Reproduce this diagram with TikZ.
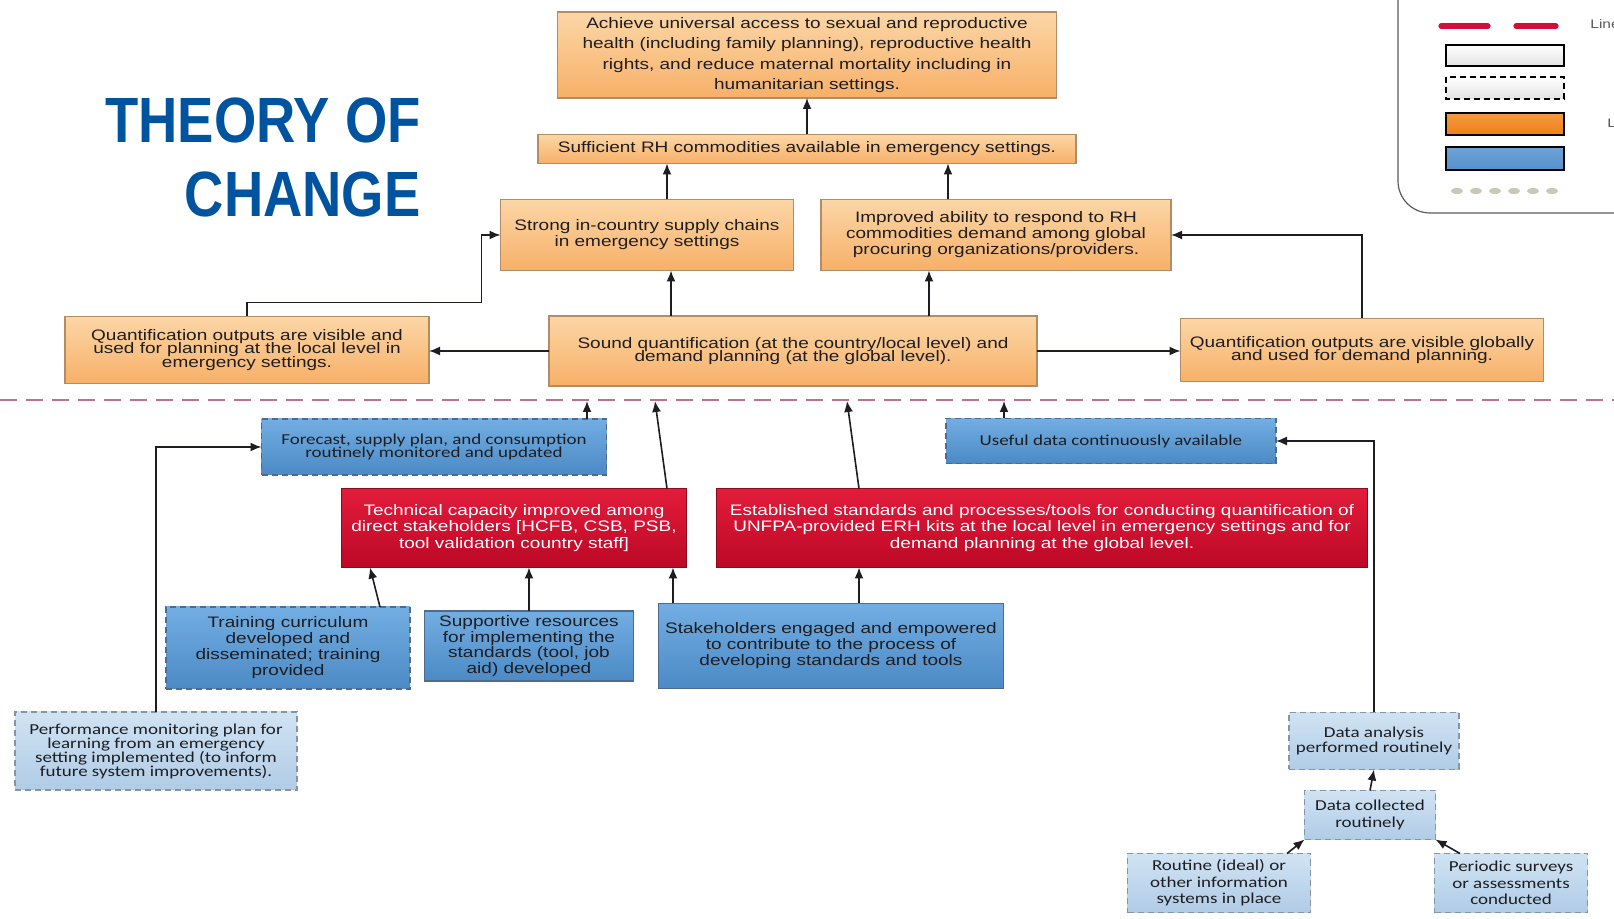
\documentclass[tikz,border=0pt]{standalone}
\usepackage{fontspec}
\setmainfont{Liberation Sans}
\newfontfamily\boxfont[FakeStretch=1.25]{Liberation Sans}
\newfontfamily\calfont[FakeStretch=1.25]{Carlito}
\newfontfamily\titlefont[FakeStretch=0.85]{Liberation Sans}
\usetikzlibrary{arrows.meta}

\definecolor{orangetop}{RGB}{252,214,166}
\definecolor{orangebot}{RGB}{247,176,104}
\definecolor{orangeline}{RGB}{178,140,100}
\definecolor{redtop}{RGB}{226,28,58}
\definecolor{redbot}{RGB}{188,8,38}
\definecolor{redline}{RGB}{140,10,30}
\definecolor{bluetop}{RGB}{114,174,226}
\definecolor{bluebot}{RGB}{76,138,198}
\definecolor{blueline}{RGB}{80,105,140}
\definecolor{paletop}{RGB}{208,227,243}
\definecolor{palebot}{RGB}{176,204,230}
\definecolor{paleline}{RGB}{135,148,165}
\definecolor{inkdark}{RGB}{30,30,34}
\definecolor{titleblue}{RGB}{0,84,159}
\definecolor{sepcolor}{RGB}{186,116,138}
\definecolor{legline}{RGB}{90,90,90}
\definecolor{legred}{RGB}{210,15,55}
\definecolor{legorange}{RGB}{240,128,20}
\definecolor{legblue}{RGB}{84,146,206}
\definecolor{beadcolor}{RGB}{204,200,182}

\newcommand{\pxu}{0.5pt}
\newcommand{\setfs}[1]{\fontsize{7.6}{#1}\selectfont\lineskiplimit=-20pt}

\tikzset{
  base/.style={inner sep=0pt, outer sep=0pt, align=center, line width=0.6pt},
  dims/.style 2 args={minimum width=#1*\pxu, minimum height=#2*\pxu},
  tight/.style={font=\boxfont\setfs{#1}},
  ctight/.style={font=\calfont\setfs{#1}},
  orangebox/.style={base, draw=orangeline, top color=orangetop, bottom color=orangebot, text=inkdark, tight=8},
  redbox/.style={base, draw=redline, top color=redtop, bottom color=redbot, text=white, tight=8.2},
  bluebox/.style={base, draw=blueline, top color=bluetop, bottom color=bluebot, text=inkdark, tight=8},
  bluedash/.style={bluebox, dash pattern=on 3pt off 2pt, ctight=6.7},
  paledash/.style={base, draw=paleline, dash pattern=on 3pt off 2pt, top color=paletop, bottom color=palebot, text=inkdark, ctight=7},
  link/.style={-{Latex[length=5.5pt,width=4.5pt]}, line width=0.8pt, draw=inkdark},
  sepline/.style={draw=sepcolor, line width=1pt, dash pattern=on 8.5pt off 4.5pt}
}

\begin{document}
\begin{tikzpicture}[x=0.5pt, y=-0.5pt]
  \useasboundingbox (0,0) rectangle (1614,919);
  \clip (0,0) rectangle (1614,919);
  \fill[white] (0,0) rectangle (1614,919); %Background

  %Title
  \node[anchor=north east, align=right, inner sep=0pt, text=titleblue,
        font=\titlefont\bfseries\fontsize{32}{37}\selectfont] (title) at (421,97) {THEORY OF\\CHANGE};

  %Legend (cut off at the right edge)
  \draw[legline, line width=0.6pt, rounded corners=16pt] (1398,-40) rectangle (1720,213);
  \draw[legred, line width=2.6pt, line cap=round] (1441,26) -- (1488,26);
  \draw[legred, line width=2.6pt, line cap=round] (1516,26) -- (1556,26);
  \draw[black, line width=0.6pt, top color=white, bottom color=gray!22] (1446,45) rectangle (1564,66);
  \draw[black, line width=0.6pt, dash pattern=on 3pt off 2pt, top color=white, bottom color=gray!22] (1446,77) rectangle (1564,99);
  \draw[black, line width=0.6pt, top color=legorange!80, bottom color=legorange] (1446,113) rectangle (1564,135);
  \draw[black, line width=0.6pt, top color=legblue!85, bottom color=legblue] (1446,147) rectangle (1564,170);
  \foreach \i in {0,...,5}
    \fill[beadcolor] (1457+19*\i,191) ellipse (6 and 3); %Beads
  \node[anchor=west, inner sep=0pt, text=legline, font=\boxfont\fontsize{6.2}{7}\selectfont] (legA) at (1590,24) {Line};
  \node[anchor=west, inner sep=0pt, text=legline, font=\boxfont\fontsize{6.2}{7}\selectfont] (legB) at (1607,123) {L};

  %Outcomes above the line
  \node[orangebox, dims={499}{86}, tight=10.3] (goal) at (807,55)
    {Achieve universal access to sexual and reproductive\\health (including family planning), reproductive health\\rights, and reduce maternal mortality including in\\humanitarian settings.};
  \node[orangebox, dims={538}{29}] (rh) at (807,149)
    {Sufficient RH commodities available in emergency settings.};
  \node[orangebox, dims={293}{71}] (supply) at (647,235)
    {Strong in-country supply chains\\in emergency settings};
  \node[orangebox, dims={350}{71}] (ability) at (996,235)
    {Improved ability to respond to RH\\commodities demand among global\\procuring organizations/providers.};
  \node[orangebox, dims={364}{67}, tight=6.7] (local) at (247,350)
    {Quantification outputs are visible and\\used for planning at the local level in\\emergency settings.};
  \node[orangebox, dims={488}{70}, tight=6.7] (sound) at (793,351)
    {Sound quantification (at the country/local level) and\\demand planning (at the global level).};
  \node[orangebox, dims={363}{63}, tight=6.7] (global) at (1362,350)
    {Quantification outputs are visible globally\\and used for demand planning.};

  \draw[sepline] (0,400) -- (1614,400); %Dividing line
  \coordinate (fc) at (587,401); %Arrow tips on the line
  \coordinate (tc) at (655,401);
  \coordinate (ec) at (847,401);
  \coordinate (uc) at (1004,401);

  %Boxes below the line
  \node[bluedash, dims={345}{56}] (forecast) at (434,447)
    {Forecast, supply plan, and consumption\\routinely monitored and updated};
  \node[bluedash, dims={330}{45}] (useful) at (1111,441)
    {Useful data continuously available};
  \node[redbox, dims={345}{79}] (tech) at (514,528)
    {Technical capacity improved among\\direct stakeholders [HCFB, CSB, PSB,\\tool validation country staff]};
  \node[redbox, dims={651}{79}] (estab) at (1042,528)
    {Established standards and processes/tools for conducting quantification of\\UNFPA-provided ERH kits at the local level in emergency settings and for\\demand planning at the global level.};
  \node[bluebox, dims={244}{82}, dash pattern=on 3pt off 2pt] (training) at (288,648)
    {Training curriculum\\developed and\\disseminated; training\\provided};
  \node[bluebox, dims={209}{70}, tight=7.7] (supportive) at (529,646)
    {Supportive resources\\for implementing the\\standards (tool, job\\aid) developed};
  \node[bluebox, dims={345}{85}] (stake) at (831,646)
    {Stakeholders engaged and empowered\\to contribute to the process of\\developing standards and tools};
  \node[paledash, dims={282}{78}] (perf) at (156,751)
    {Performance monitoring plan for\\learning from an emergency\\setting implemented (to inform\\future system improvements).};
  \node[paledash, dims={170}{57}, ctight=7.2] (analysis) at (1374,741)
    {Data analysis\\performed routinely};
  \node[paledash, dims={131}{49}, ctight=8.75] (collected) at (1370,815)
    {Data collected\\routinely};
  \node[paledash, dims={183}{59}, ctight=8.25] (routine) at (1219,883)
    {Routine (ideal) or\\other information\\systems in place};
  \node[paledash, dims={153}{59}, ctight=8.25] (periodic) at (1511,883)
    {Periodic surveys\\or assessments\\conducted};

  %Links above the line
  \draw[link] (rh) -- (goal);
  \draw[link] ([xshift=20*\pxu]supply.north) -- ([xshift=20*\pxu]supply.north |- rh.south);
  \draw[link] ([xshift=-48*\pxu]ability.north) -- ([xshift=-48*\pxu]ability.north |- rh.south);
  \draw[link] ([xshift=-122*\pxu]sound.north) -- ([xshift=-122*\pxu]sound.north |- supply.south);
  \draw[link] ([xshift=136*\pxu]sound.north) -- ([xshift=136*\pxu]sound.north |- ability.south);
  \draw[link] (sound.west) -- (sound.west -| local.east);
  \draw[link] (sound.east) -- (sound.east -| global.west);
  \draw[link] (local.north) -- ++(0,-14) -| ([xshift=-19*\pxu]supply.west) -- (supply.west);
  \draw[link] (global.north) |- (ability.east);

  %Links up to the line
  \draw[link] (forecast.north -| fc) -- (fc);
  \draw[link] ([xshift=153*\pxu]tech.north) -- (tc);
  \draw[link] ([xshift=-183*\pxu]estab.north) -- (ec);
  \draw[link] (useful.north -| uc) -- (uc);

  %Links below the line
  \draw[link] ([xshift=92*\pxu]training.north) -- ([xshift=-144*\pxu]tech.south);
  \draw[link] (supportive.north) -- (supportive.north |- tech.south);
  \draw[link] ([xshift=-158*\pxu]stake.north) -- ([xshift=-158*\pxu]stake.north |- tech.south);
  \draw[link] ([xshift=28*\pxu]stake.north) -- ([xshift=28*\pxu]stake.north |- estab.south);
  \draw[link] (perf.north) |- (forecast.west);
  \draw[link] (analysis.north) |- (useful.east);
  \draw[link] (collected.north) -- (analysis.south);
  \draw[link] ([xshift=68*\pxu]routine.north) -- (collected.south west);
  \draw[link] ([xshift=-51*\pxu]periodic.north) -- (collected.south east);
\end{tikzpicture}
\end{document}
